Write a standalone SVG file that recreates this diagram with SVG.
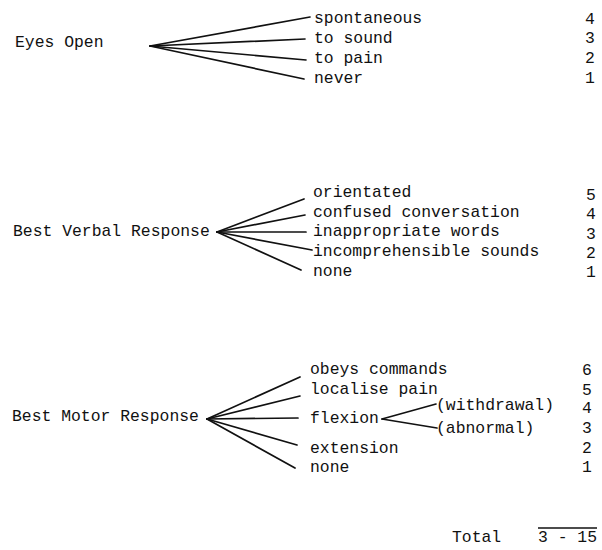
<svg xmlns="http://www.w3.org/2000/svg" width="602" height="550" viewBox="0 0 602 550">
<style>
text{font-family:"Liberation Mono","DejaVu Sans Mono",monospace;font-size:16.4px;fill:#111}
.c line{stroke:#111;stroke-width:1.7;stroke-linecap:round}
</style>
<rect width="602" height="550" fill="#fff"/>
<g class="c" id="connectors">
<line x1="150" y1="46" x2="310" y2="17"/>
<line x1="150" y1="46" x2="305" y2="39"/>
<line x1="150" y1="46" x2="306" y2="60"/>
<line x1="150" y1="46" x2="304" y2="79"/>
<line x1="217" y1="232" x2="304" y2="199"/>
<line x1="217" y1="232" x2="305" y2="215"/>
<line x1="217" y1="232" x2="306" y2="232"/>
<line x1="217" y1="232" x2="312" y2="250"/>
<line x1="217" y1="232" x2="301" y2="270"/>
<line x1="207" y1="419" x2="300" y2="377"/>
<line x1="207" y1="419" x2="300" y2="396"/>
<line x1="207" y1="419" x2="298" y2="418"/>
<line x1="207" y1="419" x2="297" y2="445"/>
<line x1="207" y1="419" x2="295" y2="468"/>
<line x1="382" y1="419" x2="436" y2="404"/>
<line x1="382" y1="419" x2="437" y2="428"/>
</g>
<g id="eyes-open"><text x="15" y="47">Eyes Open</text></g>
<g id="eo-4"><text x="314" y="23">spontaneous</text><text x="585" y="24">4</text></g>
<g id="eo-3"><text x="314" y="43">to sound</text><text x="585" y="43">3</text></g>
<g id="eo-2"><text x="314" y="63">to pain</text><text x="585" y="63">2</text></g>
<g id="eo-1"><text x="314" y="83">never</text><text x="585" y="83">1</text></g>
<g id="verbal"><text x="13" y="236">Best Verbal Response</text></g>
<g id="v-5"><text x="313" y="197">orientated</text><text x="586" y="200">5</text></g>
<g id="v-4"><text x="313" y="217">confused conversation</text><text x="586" y="219">4</text></g>
<g id="v-3"><text x="313" y="236">inappropriate words</text><text x="586" y="239">3</text></g>
<g id="v-2"><text x="313" y="256">incomprehensible sounds</text><text x="586" y="258">2</text></g>
<g id="v-1"><text x="313" y="276">none</text><text x="586" y="277">1</text></g>
<g id="motor"><text x="12" y="421">Best Motor Response</text></g>
<g id="m-6"><text x="310" y="374">obeys commands</text><text x="582" y="375">6</text></g>
<g id="m-5"><text x="310" y="394">localise pain</text><text x="582" y="395">5</text></g>
<g id="m-flex"><text x="310" y="423">flexion</text></g>
<g id="m-4"><text x="436" y="410">(withdrawal)</text><text x="582" y="413">4</text></g>
<g id="m-3"><text x="436" y="433">(abnormal)</text><text x="582" y="433">3</text></g>
<g id="m-2"><text x="310" y="453">extension</text><text x="582" y="453">2</text></g>
<g id="m-1"><text x="310" y="472">none</text><text x="582" y="472">1</text></g>
<g id="total"><text x="452" y="542">Total</text><text x="538" y="542">3 - 15</text>
<line x1="538" y1="528" x2="597" y2="528" stroke="#111" stroke-width="1.4"/></g>
</svg>
